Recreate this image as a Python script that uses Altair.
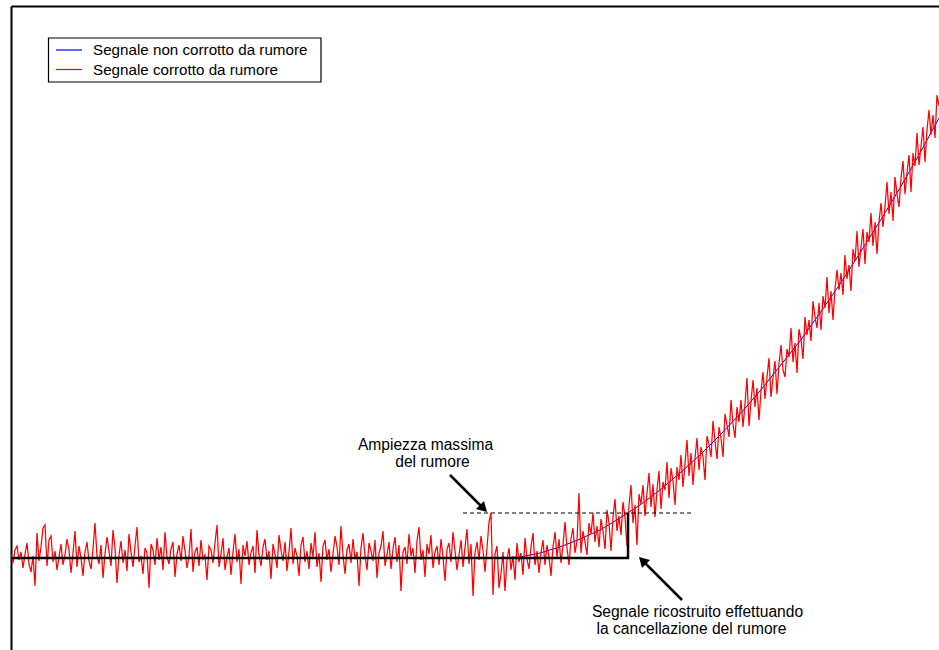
import altair as alt
import pandas as pd

# Sample index (x) and amplitude (y) ranges of the plot window
T_MAX = 928
V_MIN, V_MAX = -92, 552

# Clean signal: flat, then rising smoothly
clean_t = [0, 489, 509, 529, 549, 569, 589, 609, 629, 649, 669, 689, 709,
           729, 749, 769, 789, 809, 829, 849, 869, 889, 909, 928]
clean_v = [0, 0, 1, 5, 11, 19, 28, 40, 53, 68, 85, 103, 123,
           144, 167, 192, 217, 245, 274, 305, 337, 370, 405, 440]

# Noisy signal, one value every 2 samples from t = 0
noisy_v = [
    3, -5, 8, 12, -2, 6, -10, 4, 15, -6, -14, 2, -28, 25, -3, 11, 30, 33, -8, 18,
    22, -4, 7, -12, 1, 14, -7, 3, 19, 8, -15, 5, 27, -9, 12, 0, -18, 6, 16, -3,
    -11, 9, 35, 2, -6, 13, -20, 4, 21, 7, -8, 28, 10, -25, 3, 17, -5, 8, -13, 24,
    6, -9, 12, 31, -4, 2, -16, 10, 5, -30, 14, 8, -7, 20, -2, 11, -12, 26, 1, -6,
    9, 16, -19, 4, 13, -3, 22, 7, -10, 2, 29, -14, 6, 11, -8, 18, -1, 3, -22, 12,
    8, -5, 15, 33, -9, 4, 20, -12, 1, 10, -17, 6, 24, -4, 9, -26, 13, 2, 17, -7,
    5, 12, -15, 28, 3, -8, 11, 19, -2, 7, -21, 14, 4, -10, 23, 8, -3, 16, -13, 6,
    30, -6, 10, 2, -18, 13, 21, -4, 7, -11, 15, 1, 26, -9, 5, -24, 12, 18, -2, 9,
    -14, 4, 22, 11, -7, 32, 3, -16, 8, 14, -5, 19, -1, 6, -28, 10, 25, 2, -12, 15,
    7, -3, 18, -20, 5, 12, 27, -8, 3, 16, -11, 9, 21, -4, 13, -33, 6, 11, -6, 24,
    2, 10, -15, 17, 31, -2, 8, -19, 14, 4, 23, -10, 6, 12, -7, 19, 1, -23, 9, 15,
    -4, 26, 7, -12, 3, 18, -9, 11, 29, -6, 14, -38, 5, 16, -2, 22, 8, -14, 10, 36,
    45, -37, 4, 12, -30,
    -16, 6, -33, -2, 10, -12, 2, -22, 15, -4,
    5, -17, 20, -1, -11, 11, 25, -7, 7, -15,
    5, 18, -7, 13, 1, -18, 11, 26, 1, 19,
    -5, 13, 36, 10, -7, 19, 30, 5, 17, 65,
    5, 27, 16, 3, 35, 24, 45, 16, 32, 11,
    39, 27, 9, 48, 35, 7, 41, 59, 27, 42,
    23, 56, 41, 12, 53, 73, 35, 53, 13, 64,
    54, 73, 42, 65, 85, 51, 74, 41, 68, 87,
    49, 76, 68, 96, 60, 90, 77, 53, 91, 78,
    103, 71, 94, 118, 82, 105, 73, 100, 120, 88,
    111, 101, 78, 122, 114, 101, 137, 117, 99, 131,
    120, 101, 144, 133, 121, 158, 134, 120, 151, 136,
    158, 131, 154, 180, 132, 157, 178, 151, 170, 138,
    167, 186, 159, 181, 200, 161, 180, 197, 164, 194,
    213, 188, 181, 209, 201, 230, 196, 215, 185, 229,
    219, 199, 241, 223, 238, 217, 257, 241, 230, 255,
    228, 262, 250, 281, 245, 267, 238, 269, 288, 268,
    285, 263, 303, 279, 293, 267, 309, 297, 327, 291,
    311, 329, 294, 326, 316, 345, 312, 336, 304, 336,
    355, 331, 351, 376, 344, 366, 337, 381, 364, 351,
    380, 397, 364, 385, 403, 366, 405, 392, 425, 393,
    412, 431, 396, 428, 448, 423, 443, 420, 463, 452,
]
noisy_t = [2 * i for i in range(len(noisy_v))]

# Signal rebuilt after noise cancellation (zero until it exceeds the threshold)
recon_t = [0, 617, 617]
recon_v = [0, 0, 45]

# Maximum noise amplitude (threshold)
thr_t = [452, 682]
thr_v = [45, 45]

# Annotation texts
ann_text = ["Ampiezza massima", "del rumore",
            "Segnale ricostruito effettuando", "la cancellazione del rumore"]
ann_t = [414.5, 421.5, 686.5, 680.5]
ann_v = [108, 91, -59, -76]

# Arrows: tail, head position and heading (degrees clockwise from up)
arrow_tail_t = [439, 671]
arrow_tail_v = [83, -42]
arrow_head_t = [472.5, 631.5]
arrow_head_v = [49.5, -2.5]
arrow_angle = [135, 315]

# Legend entries
legend_labels = ["Segnale non corrotto da rumore", "Segnale corrotto da rumore"]
legend_colors = ["#0000ff", "#ff0000"]

FONT = "Liberation Sans"

sx = alt.Scale(domain=[0, T_MAX], nice=False, zero=False)
sy = alt.Scale(domain=[V_MIN, V_MAX], nice=False, zero=False)
ax_x = alt.Axis(orient="top", domain=True, domainColor="black", domainWidth=2,
                ticks=False, labels=False, grid=False)
ax_y = alt.Axis(orient="left", domain=True, domainColor="black", domainWidth=2,
                ticks=False, labels=False, grid=False)


def X(field):
    return alt.X(f"{field}:Q", scale=sx, axis=ax_x, title=None)


def Y(field):
    return alt.Y(f"{field}:Q", scale=sy, axis=ax_y, title=None)


clean_df = pd.DataFrame({"t": clean_t, "v": clean_v})
noisy_df = pd.DataFrame({"t": noisy_t, "v": noisy_v})
recon_df = pd.DataFrame({"t": recon_t, "v": recon_v, "k": list(range(len(recon_t)))})
thr_df = pd.DataFrame({"t": thr_t, "v": thr_v})
ann_df = pd.DataFrame({"label": ann_text, "t": ann_t, "v": ann_v})
shaft_rows = []
for i in range(len(arrow_tail_t)):
    shaft_rows.append({"a": i, "k": 0, "t": arrow_tail_t[i], "v": arrow_tail_v[i]})
    shaft_rows.append({"a": i, "k": 1, "t": arrow_head_t[i], "v": arrow_head_v[i]})
shaft_df = pd.DataFrame(shaft_rows)
head_df = pd.DataFrame({"t": arrow_head_t, "v": arrow_head_v, "ang": arrow_angle})
one = pd.DataFrame({"d": [0]})

clean = alt.Chart(clean_df).mark_line(color=legend_colors[0], strokeWidth=1).encode(
    x=X("t"), y=Y("v"))
noisy = alt.Chart(noisy_df).mark_line(color=legend_colors[1], strokeWidth=1.25).encode(
    x=X("t"), y=Y("v"))
recon = alt.Chart(recon_df).mark_line(color="black", strokeWidth=2.5).encode(
    x=X("t"), y=Y("v"), order="k:Q")
thr = alt.Chart(thr_df).mark_line(color="black", strokeWidth=1, strokeDash=[4, 3]).encode(
    x=X("t"), y=Y("v"))
shafts = alt.Chart(shaft_df).mark_line(color="black", strokeWidth=2.5).encode(
    x=X("t"), y=Y("v"), detail="a:N", order="k:Q")
heads = alt.Chart(head_df).mark_point(
    shape="triangle-up", filled=True, color="black", size=130, opacity=1
).encode(x=X("t"), y=Y("v"), angle=alt.Angle("ang:Q", scale=None))
notes = alt.Chart(ann_df).mark_text(
    font=FONT, fontSize=15.6, color="black", align="center", baseline="alphabetic"
).encode(x=X("t"), y=Y("v"), text="label:N")

# Legend box drawn in the upper-left corner
leg_box = alt.Chart(one).mark_rect(fill="white", stroke="black", strokeWidth=1.2).encode(
    x=alt.value(37.5), x2=alt.value(310), y=alt.value(32), y2=alt.value(76))
leg_layers = [leg_box]
for i, (lab, col) in enumerate(zip(legend_labels, legend_colors)):
    yy = 44 + 19.5 * i
    leg_layers.append(alt.Chart(one).mark_rule(color=col, strokeWidth=1.2).encode(
        x=alt.value(45), x2=alt.value(71), y=alt.value(yy)))
    leg_layers.append(alt.Chart(one).mark_text(
        font=FONT, fontSize=15.2, color="black", align="left", baseline="middle"
    ).encode(x=alt.value(82), y=alt.value(yy), text=alt.value(lab)))

chart = alt.layer(clean, noisy, recon, thr, shafts, heads, notes, *leg_layers).properties(
    width=928, height=644,
    padding={"left": 11, "top": 6, "right": 0, "bottom": 0},
    autosize=alt.AutoSizeParams(type="none"),
    background="white",
).configure_view(stroke=None)

chart.save("out.html", embed_options={"renderer": "svg", "actions": False})
